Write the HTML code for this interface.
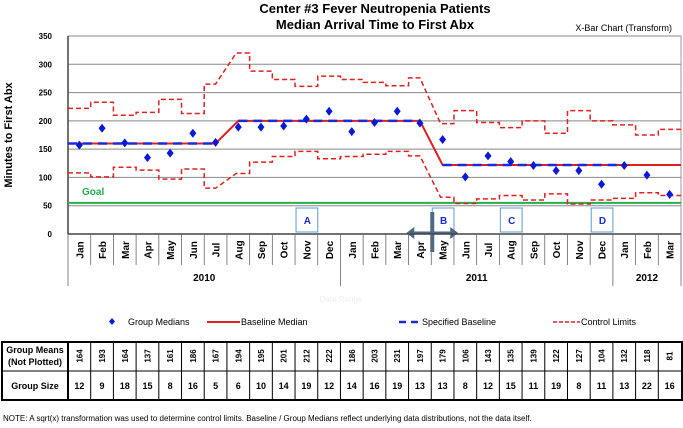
<!DOCTYPE html>
<html><head><meta charset="utf-8"><style>
body{margin:0;background:#fff;width:683px;height:423px;overflow:hidden}
svg text{font-family:"Liberation Sans",Arial,sans-serif}
</style></head><body>
<svg id="chart" width="683" height="423">
<text x="375" y="13" text-anchor="middle" font-size="13" font-weight="bold">Center #3 Fever Neutropenia Patients</text>
<text x="375" y="29" text-anchor="middle" font-size="13" font-weight="bold">Median Arrival Time to First Abx</text>
<text x="672" y="31" text-anchor="end" font-size="9">X-Bar Chart (Transform)</text>
<text transform="translate(12,135) rotate(-90)" text-anchor="middle" font-size="11" font-weight="bold">Minutes to First Abx</text>
<g id="grid"></g><g id="marks"></g><g id="xaxis"></g>
<text x="341" y="302" text-anchor="middle" font-size="8" fill="#eee">Date Range</text>
<g font-size="9">
<path d="M112 318 l3 3.5 -3 3.5 -3 -3.5z" fill="#0a18d8"/>
<text x="128" y="325">Group Medians</text>
<line x1="207" y1="322" x2="240" y2="322" stroke="#e02020" stroke-width="2"/>
<text x="241" y="325">Baseline Median</text>
<line x1="399" y1="322" x2="421" y2="322" stroke="#1a2ad8" stroke-width="2.5" stroke-dasharray="7,5"/>
<text x="422" y="325">Specified Baseline</text>
<line x1="553" y1="322" x2="580" y2="322" stroke="#e02020" stroke-width="1.5" stroke-dasharray="4,2"/>
<text x="581" y="325">Control Limits</text>
</g>
<g id="table"></g>
<text x="3" y="421" font-size="8">NOTE: A sqrt(x) transformation was used to determine control limits.  Baseline / Group Medians reflect underlying data distributions, not the data itself.</text>
</svg>
<script>
const months=["Jan","Feb","Mar","Apr","May","Jun","Jul","Aug","Sep","Oct","Nov","Dec","Jan","Feb","Mar","Apr","May","Jun","Jul","Aug","Sep","Oct","Nov","Dec","Jan","Feb","Mar"];
const medians=[157,187,161,135,143,178,162,189,189,191,203,217,181,197,217,196,167,101,138,128,121,112,112,88,121,104,70];
const baseline=[160,160,160,160,160,160,160,200,200,200,200,200,200,200,200,200,122,122,122,122,122,122,122,122,122,122,122];
const specified=[160,160,160,160,160,160,160,200,200,200,200,200,200,200,200,200,122,122,122,122,122,122,122,122,122,null,null];
const ucl=[222,233,210,215,238,213,265,320,288,273,261,279,273,268,262,276,195,218,197,188,200,178,218,200,193,175,185];
const lcl=[108,101,118,113,97,115,81,107,127,137,146,133,137,141,146,138,65,54,62,68,60,71,53,60,63,73,68];
const groupMeans=[164,193,164,137,161,186,167,194,195,201,212,222,186,203,231,197,179,106,143,135,139,122,127,104,132,118,81];
const groupSize=[12,9,18,15,8,16,5,6,10,14,19,12,14,16,19,13,13,8,12,15,11,19,8,11,13,22,16];
const yTicks=[0,50,100,150,200,250,300,350];
const years=[["2010",0,12],["2011",12,24],["2012",24,27]];
const goal=55;
const annotations=[["A",10],["B",16],["C",19],["D",23]];
const transitions=[7,16];

const NS="http://www.w3.org/2000/svg";
const X0=68,X1=681,Y0=234,Y1=36,N=months.length,W=(X1-X0)/N;
const x=i=>X0+W*(i+0.5), xe=i=>X0+W*i, y=v=>Y0-(v/350)*(Y0-Y1);
function mk(tag,attrs,parent){const e=document.createElementNS(NS,tag);for(const k in attrs)e.setAttribute(k,attrs[k]);parent.appendChild(e);return e;}
const grid=document.getElementById('grid'),marks=document.getElementById('marks'),xa=document.getElementById('xaxis'),tb=document.getElementById('table');
mk('rect',{x:X0,y:Y1,width:X1-X0,height:Y0-Y1,fill:'#fff',stroke:'#999'},grid);
yTicks.forEach(t=>{
 const l=mk('line',{x1:X0,x2:X1,y1:y(t),y2:y(t),stroke:'#888','stroke-width':1},grid);
 
 
 const tx=mk('text',{x:X0-16,y:y(t)+3,'text-anchor':'end','font-size':8,'font-weight':'bold'},grid);tx.textContent=t;
 
 
});
mk('line',{x1:X0,x2:X0,y1:Y1,y2:Y0,stroke:'#444','stroke-width':1.5},grid);
const gl=mk('line',{x1:X0,x2:X1,y1:y(goal),y2:y(goal),stroke:'#22b04a','stroke-width':2},marks);


const gt=mk('text',{x:X0+14,y:y(goal)-8,'font-size':10,'font-weight':'bold',fill:'#22b04a'},marks);gt.textContent='Goal';


function stepPath(arr){let d='M'+xe(0)+' '+y(arr[0]);
 for(let i=0;i<N;i++){
  if(i>0){
   if(transitions.includes(i)){d+=' L'+(x(i)-2)+' '+y(arr[i]);}
   else{d+=' L'+xe(i)+' '+y(arr[i-1])+' L'+xe(i)+' '+y(arr[i]);}
  }
  if(i===N-1)d+=' L'+xe(N)+' '+y(arr[i]);
  else if(transitions.includes(i+1))d+=' L'+x(i)+' '+y(arr[i]);
 }
 return d;}
[['ucl',ucl],['lcl',lcl]].forEach(([n,arr])=>{const p=mk('path',{d:stepPath(arr),fill:'none',stroke:'#e02020','stroke-width':1.5,'stroke-dasharray':'5,3'},marks);
 
 });
let bd='M'+xe(0)+' '+y(baseline[0]);for(let i=0;i<N;i++)bd+=' L'+x(i)+' '+y(baseline[i]);bd+=' L'+xe(N)+' '+y(baseline[N-1]);
const bl=mk('path',{d:bd,fill:'none',stroke:'#e02020','stroke-width':2},marks);


let sd='',prev=null;for(let i=0;i<N;i++){if(specified[i]===null)continue;if(prev===null||specified[i]!==prev){sd+=' M'+(i===0?xe(0):x(i))+' '+y(specified[i]);}else sd+=' L'+x(i)+' '+y(specified[i]);prev=specified[i];}
const sl=mk('path',{d:sd,fill:'none',stroke:'#1a2ad8','stroke-width':2.5,'stroke-dasharray':'9,6'},marks);


medians.forEach((v,i)=>{const p=mk('path',{d:`M${x(i)} ${y(v)-4.5} l3.5 4.5 -3.5 4.5 -3.5 -4.5z`,fill:'#0a18d8'},marks);
 
 });
annotations.forEach(([t,i])=>{const bx=xe(i)+1;const r=mk('rect',{x:bx,y:208,width:W-1,height:24,fill:'#fff',stroke:'#5b9bd5','stroke-width':1},marks);
 
 
 const tx=mk('text',{x:bx+W/2,y:224,'text-anchor':'middle','font-size':10,'font-weight':'bold',fill:'#1a2ad8'},marks);tx.textContent=t;});
const ax=xe(16)+1;
const arr=mk('g',{fill:'#4a6a8a'},marks);


mk('rect',{x:ax-2,y:212,width:4,height:40},arr);
mk('rect',{x:ax-20,y:231.5,width:40,height:3},arr);
mk('path',{d:`M${ax-26} 233 l8 -6 0 12z M${ax+26} 233 l-8 -6 0 12z`},arr);
mk('line',{x1:X0,x2:X1,y1:Y0,y2:Y0,stroke:'#444','stroke-width':1.5},xa);
for(let i=0;i<=N;i++){const yrB=years.some(yy=>yy[1]===i)||i===N;mk('line',{x1:xe(i),x2:xe(i),y1:Y0,y2:yrB?286:265,stroke:'#666','stroke-width':0.8},xa);}
months.forEach((m,i)=>{const t=mk('text',{transform:`translate(${x(i)+4},${Y0+16}) rotate(-90)`,'text-anchor':'middle','font-size':10,'font-weight':'bold'},xa);t.textContent=m;
 
 });
years.forEach(([yl,a,b])=>{const t=mk('text',{x:(xe(a)+xe(b))/2,y:281,'text-anchor':'middle','font-size':10,'font-weight':'bold'},xa);t.textContent=yl;
 
 });
mk('rect',{x:2,y:342,width:X1-1,height:58,fill:'#fff',stroke:'#000','stroke-width':2},tb);
mk('line',{x1:2,x2:X1+1,y1:371,y2:371,stroke:'#000','stroke-width':1},tb);
for(let i=0;i<N;i++)mk('line',{x1:xe(i),x2:xe(i),y1:342,y2:400,stroke:'#000','stroke-width':i===0?2:1},tb);
[['Group Means',353],['(Not Plotted)',365],['Group Size',389]].forEach(([s,yy])=>{const t=mk('text',{x:35,y:yy,'text-anchor':'middle','font-size':9,'font-weight':'bold'},tb);t.textContent=s;});
groupMeans.forEach((v,i)=>{const t=mk('text',{transform:`translate(${x(i)+3},356) rotate(-90)`,'text-anchor':'middle','font-size':8,'font-weight':'bold'},tb);t.textContent=v;
 
 });
groupSize.forEach((v,i)=>{const t=mk('text',{x:x(i),y:389,'text-anchor':'middle','font-size':9,'font-weight':'bold'},tb);t.textContent=v;
 
 });
</script>
</body></html>
